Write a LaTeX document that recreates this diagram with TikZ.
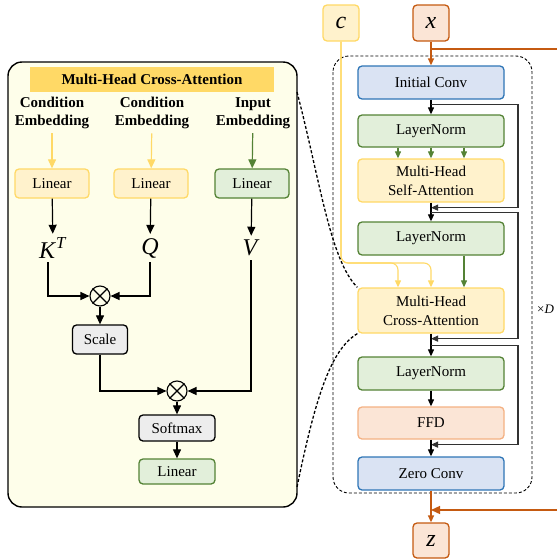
\documentclass[tikz,border=0pt]{standalone}
\usepackage{fontspec}
\setmainfont{Liberation Serif}
\usetikzlibrary{arrows.meta}

\definecolor{panel}{RGB}{254,254,234}
\definecolor{banner}{RGB}{255,217,102}
\definecolor{yfill}{RGB}{255,242,204}
\definecolor{yline}{RGB}{255,217,102}
\definecolor{gfill}{RGB}{226,239,218}
\definecolor{gline}{RGB}{84,130,53}
\definecolor{bfill}{RGB}{218,227,243}
\definecolor{bline}{RGB}{46,117,182}
\definecolor{ofill}{RGB}{251,229,214}
\definecolor{oline}{RGB}{244,177,131}
\definecolor{xline}{RGB}{197,90,17}
\definecolor{kfill}{RGB}{237,237,237}
\definecolor{res}{RGB}{50,50,50}

\tikzset{
  blk/.style={draw, rounded corners=4pt, line width=1.3pt, inner sep=0pt,
              align=center, font=\fontsize{15}{19}\selectfont},
  attnbox/.style={blk, draw=yline, fill=yfill},
  normbox/.style={blk, draw=gline, fill=gfill},
  convbox/.style={blk, draw=bline, fill=bfill},
  ffdbox/.style={blk, draw=oline, fill=ofill},
  opbox/.style={blk, draw=black, fill=kfill},
  inbox/.style={blk, minimum width=36pt, minimum height=36pt,
                font=\fontsize{24}{28}\selectfont},
  wide/.style={minimum width=146pt},
  lbl/.style={align=center, inner sep=1pt,
              font=\bfseries\fontsize{15}{18.5}\selectfont},
  sym/.style={inner sep=4pt, font=\fontsize{24}{28}\selectfont},
  mult/.style={circle, draw, line width=1.1pt, minimum size=20pt, inner sep=0pt},
  arr/.style={-{Triangle[length=9pt,width=8pt]}, line width=1.2pt},
  sarr/.style={-{Triangle[length=7pt,width=6pt]}, line width=1.1pt},
  link/.style={densely dashed, line width=1.3pt}
}

\begin{document}
\begin{tikzpicture}[x=1pt,y=1pt]
\useasboundingbox (0,0) rectangle (557,-560) ;

% cross-attention detail
\filldraw [fill=panel, line width=1.4pt, rounded corners=14pt] (8,-62) rectangle (297,-507) ;
\coordinate (pa) at (297,-92) ;
\coordinate (pb) at (297,-487) ;
\node [fill=banner, minimum width=244pt, minimum height=25pt,
       font=\bfseries\fontsize{15}{18}\selectfont] (title) at (152,-79)
  {Multi-Head Cross-Attention} ;
\node [lbl] (ek) at (52,-113) {Condition\\Embedding} ;
\node [lbl] (eq) at (152,-113) {Condition\\Embedding} ;
\node [lbl] (ev) at (253,-113) {Input\\Embedding} ;
\node [attnbox, minimum width=74pt, minimum height=29pt] (lk) at (52,-183.5) {Linear} ;
\node [attnbox, minimum width=74pt, minimum height=29pt] (lq) at (151,-183.5) {Linear} ;
\node [normbox, minimum width=74pt, minimum height=29pt] (lv) at (252,-183.5) {Linear} ;
\draw [arr, yline, shorten <=3pt] (ek) -- (lk) ;
\draw [arr, yline, shorten <=3pt] (eq) -- (lq) ;
\draw [arr, gline, shorten <=3pt] (ev) -- (lv) ;
\node [sym] (k) at (53,-248) {\textit{K}\textsuperscript{\textit{T}}} ;
\node [sym] (q) at (150,-248) {\textit{Q}} ;
\node [sym] (v) at (251,-248) {\textit{V}} ;
\draw [arr] (lk) -- (k) ;
\draw [arr] (lq) -- (q) ;
\draw [arr] (lv) -- (v) ;
\node [mult] (m1) at (100,-296) {} ;
\draw [line width=1.1pt] (m1.north west) -- (m1.south east)
                         (m1.north east) -- (m1.south west) ;
\draw [arr] ([xshift=-5pt]k.south) |- (m1) ;
\draw [arr] (q.south) |- (m1) ;
\node [opbox, minimum width=55pt, minimum height=29pt] (sc) at (100,-339.5) {Scale} ;
\draw [arr] (m1) -- (sc) ;
\node [mult] (m2) at (177,-391) {} ;
\draw [line width=1.1pt] (m2.north west) -- (m2.south east)
                         (m2.north east) -- (m2.south west) ;
\draw [arr] (sc.south) |- (m2) ;
\draw [arr] (v.south) |- (m2) ;
\node [opbox, minimum width=76pt, minimum height=26pt] (sm) at (177,-428) {Softmax} ;
\draw [arr] (m2) -- (sm) ;
\node [normbox, minimum width=76pt, minimum height=25pt] (lo) at (177,-471.5) {Linear} ;
\draw [arr] (sm) -- (lo) ;

% main block
\draw [densely dashed, line width=0.9pt, rounded corners=16pt] (333,-56) rectangle (532,-493) ;
\node [inbox, draw=yline, fill=yfill] (c) at (341,-23) {\textit{c}} ;
\node [inbox, draw=xline, fill=ofill] (x) at (431,-23) {\textit{x}} ;
\node [inbox, draw=xline, fill=ofill, minimum height=35pt] (z) at (431,-540.5) {\textit{z}} ;
\node [convbox, wide, minimum height=33pt] (ic) at (431,-82.5) {Initial Conv} ;
\node [normbox, wide, minimum height=32pt] (n1) at (431,-131) {LayerNorm} ;
\node [attnbox, wide, minimum height=43pt] (sa) at (431,-180.5) {Multi-Head\\Self-Attention} ;
\node [normbox, wide, minimum height=33pt] (n2) at (431,-238.5) {LayerNorm} ;
\node [attnbox, wide, minimum height=45pt] (ca) at (431,-310.5) {Multi-Head\\Cross-Attention} ;
\node [normbox, wide, minimum height=33pt] (n3) at (431,-373.5) {LayerNorm} ;
\node [ffdbox, wide, minimum height=32pt] (ff) at (431,-423) {FFD} ;
\node [convbox, wide, minimum height=33pt] (zc) at (431,-473.5) {Zero Conv} ;
\node [anchor=west, inner sep=0pt, font=\fontsize{13}{15}\selectfont] (rep) at (537,-309)
  {×\textit{D}} ;

\coordinate (xr) at (557,-49) ;
\coordinate (zr) at (557,-510) ;
\coordinate (cy) at (0,-263) ;
\coordinate (ca1) at ([xshift=-33pt]ca.north) ;
\draw [sarr, xline, line width=1.3pt] (x) -- (ic) ;
\draw [xline, line width=1.3pt] (x.south |- xr) -- (xr) ;
\draw [sarr] (ic) -- (n1) ;
\draw [sarr, res] ([yshift=-5pt]ic.south) -- ++(87,0) |- ([yshift=-5pt]sa.south) ;
\foreach \dx in {-33,0,33}
  \draw [sarr, gline] ([xshift=\dx pt]n1.south) -- ([xshift=\dx pt]sa.north) ;
\draw [sarr] (sa) -- (n2) ;
\draw [sarr, res] ([yshift=-10pt]sa.south) -- ++(87,0) |- ([yshift=-5pt]ca.south) ;
\draw [sarr, yline, rounded corners=7pt] (c) -- (c.south |- cy) -- (ca1 |- cy) -- (ca1) ;
\draw [sarr, yline, rounded corners=7pt] (c) -- (c.south |- cy) -- (ca.north |- cy) -- (ca) ;
\draw [sarr, gline] ([xshift=33pt]n2.south) -- ([xshift=33pt]ca.north) ;
\draw [sarr] (ca) -- (n3) ;
\draw [sarr, res] ([yshift=-12pt]ca.south) -- ++(87,0) |- ([yshift=-5pt]ff.south) ;
\draw [sarr] (n3) -- (ff) ;
\draw [sarr] (ff) -- (zc) ;
\draw [sarr, xline, line width=1.3pt] (zc) -- (z) ;
\draw [arr, xline, line width=1.3pt] (zr) -- (zr -| z.north) ;

% zoom lines
\draw [link] (pa) .. controls (320,-180) and (330,-260) .. (ca.north west) ;
\draw [link] (ca.south west) .. controls (330,-350) and (315,-400) .. (pb) ;
\end{tikzpicture}
\end{document}
